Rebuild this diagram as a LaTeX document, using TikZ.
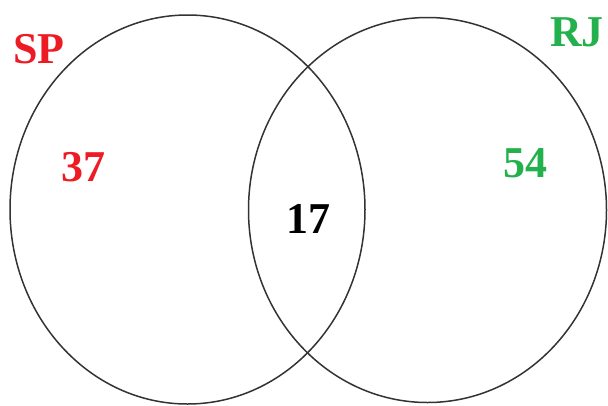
\documentclass[tikz,border=0pt]{standalone}
\usepackage{fontspec}
\setmainfont{Liberation Serif}
\usetikzlibrary{shapes.geometric}
\definecolor{spred}{HTML}{ED1C24}
\definecolor{rjgreen}{HTML}{22B14C}
\begin{document}
\begin{tikzpicture}[x=1pt,y=-1pt,
  setcircle/.style={draw=black!80,line width=1.5pt,ellipse,inner sep=0pt},
  lbl/.style={font=\fontsize{44}{48}\selectfont\bfseries,anchor=base,inner sep=0pt}]
\useasboundingbox (0,0) rectangle (608,405);
\node[setcircle,minimum width=355pt,minimum height=389pt] (sp) at (187.5,209.5) {};
\node[setcircle,minimum width=358pt,minimum height=385pt] (rj) at (427.5,210) {};
\node[lbl,text=spred] (sptitle) at (39,63) {SP};
\node[lbl,text=rjgreen] (rjtitle) at (577,46) {RJ};
\node[lbl,text=spred] (spval) at (83.5,181) {37};
\node[lbl,text=rjgreen] (rjval) at (525,177) {54};
\node[lbl,text=black] (both) at (308,233) {17};
\end{tikzpicture}
\end{document}
